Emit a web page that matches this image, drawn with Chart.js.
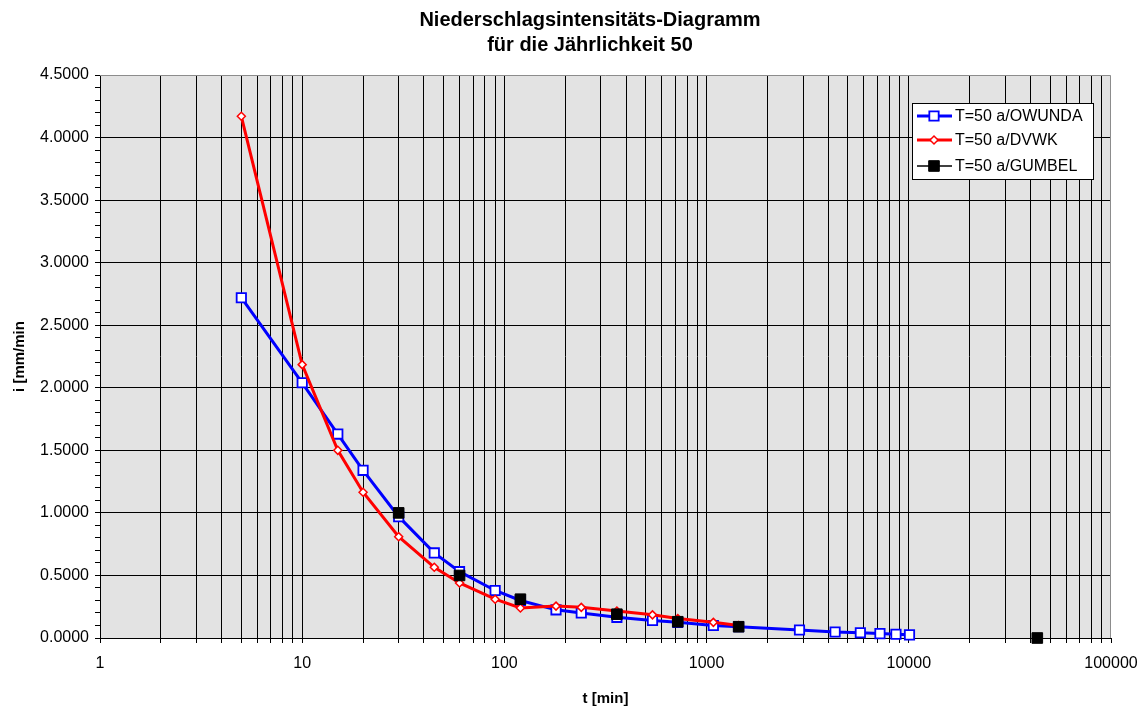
<!DOCTYPE html>
<html>
<head>
<meta charset="utf-8">
<title>Niederschlagsintensitäts-Diagramm</title>
<script src="https://cdn.jsdelivr.net/npm/chart.js@4.4.1/dist/chart.umd.min.js"></script>
<style>
  html, body { margin: 0; padding: 0; background: #fff; }
  #wrap { width: 1141px; height: 709px; }
</style>
</head>
<body>
<div id="wrap"><canvas id="chart"></canvas></div>
<script>
// Dauerstufen t [min] und Intensitäten i [mm/min]
const tOwunda = [5, 10, 15, 20, 30, 45, 60, 90, 120, 180, 240, 360, 540, 720, 1080, 1440, 2880, 4320, 5760, 7200, 8640, 10080];
const iOwunda = [2.72, 2.04, 1.63, 1.34, 0.97, 0.68, 0.53, 0.38, 0.30, 0.225, 0.20, 0.165, 0.14, 0.125, 0.10, 0.09, 0.064, 0.048, 0.042, 0.035, 0.03, 0.025];

const tDvwk = [5, 10, 15, 20, 30, 45, 60, 90, 120, 180, 240, 360, 540, 720, 1080, 1440];
const iDvwk = [4.17, 2.185, 1.50, 1.165, 0.81, 0.565, 0.44, 0.31, 0.24, 0.255, 0.245, 0.215, 0.185, 0.155, 0.125, 0.10];

const tGumbel = [30, 60, 120, 360, 720, 1440, 43200];
const iGumbel = [1.00, 0.50, 0.31, 0.19, 0.13, 0.09, 0.0];

const seriesNames = ["T=50 a/OWUNDA", "T=50 a/DVWK", "T=50 a/GUMBEL"];
const titleLines = ["Niederschlagsintensitäts-Diagramm", "für die Jährlichkeit 50"];

const FONT = "'Liberation Sans', Arial, sans-serif";

function toPoints(xs, ys) {
    return xs.map((x, i) => ({ x: x, y: ys[i] }));
}

function isHalfStep(v) {
    return Math.abs(v * 2 - Math.round(v * 2)) < 1e-6;
}

function isDecade(v) {
    let l = Math.log10(v);
    return Math.abs(l - Math.round(l)) < 1e-9;
}

// weisser Hintergrund, graue Zeichenfläche
const plotBackground = {
    id: 'plotBackground',
    beforeDraw(chart) {
        let ctx = chart.ctx, a = chart.chartArea;
        ctx.save();
        ctx.fillStyle = "#ffffff";
        ctx.fillRect(0, 0, chart.width, chart.height);
        ctx.fillStyle = "#e3e3e3";
        ctx.fillRect(a.left, a.top, a.right - a.left, a.bottom - a.top);
        ctx.restore();
    }
};

// Diagrammtitel (zweizeilig, etwas rechts der Mitte wie im Original)
const chartTitle = {
    id: 'chartTitle',
    afterDraw(chart) {
        let ctx = chart.ctx;
        ctx.save();
        ctx.fillStyle = "#000000";
        ctx.font = "bold 20px " + FONT;
        ctx.textAlign = "center";
        ctx.textBaseline = "alphabetic";
        ctx.fillText(titleLines[0], 590, 26);
        ctx.fillText(titleLines[1], 590, 51);
        ctx.restore();
    }
};

// Legende mit Rahmen innerhalb der Zeichenfläche
const boxedLegend = {
    id: 'boxedLegend',
    afterDraw(chart) {
        let ctx = chart.ctx, a = chart.chartArea;
        let x = a.right - 199, y = a.top + 28, w = 181, h = 76;
        ctx.save();
        ctx.fillStyle = "#ffffff";
        ctx.fillRect(x, y, w, h);
        ctx.strokeStyle = "#000000";
        ctx.lineWidth = 1;
        ctx.strokeRect(x + 0.5, y + 0.5, w, h);

        let rows = [y + 13, y + 37, y + 63];
        chart.data.datasets.forEach((ds, i) => {
            let ry = rows[i];
            ctx.strokeStyle = ds.legendLine;
            ctx.lineWidth = ds.legendLineWidth;
            ctx.beginPath();
            ctx.moveTo(x + 5, ry);
            ctx.lineTo(x + 40, ry);
            ctx.stroke();
            ctx.fillStyle = ds.pointBackgroundColor;
            ctx.strokeStyle = ds.pointBorderColor;
            ctx.lineWidth = ds.pointBorderWidth;
            Chart.helpers.drawPoint(ctx, {
                pointStyle: ds.pointStyle,
                radius: ds.pointRadius,
                rotation: 0,
                borderWidth: ds.pointBorderWidth
            }, x + 22, ry);
            ctx.fillStyle = "#000000";
            ctx.font = "16px " + FONT;
            ctx.textBaseline = "middle";
            ctx.textAlign = "left";
            ctx.fillText(ds.label, x + 43, ry + 1);
        });
        ctx.restore();
    }
};

// graue Umrandung oben und rechts
const plotFrame = {
    id: 'plotFrame',
    beforeDatasetsDraw(chart) {
        let ctx = chart.ctx, a = chart.chartArea;
        ctx.save();
        ctx.strokeStyle = "#8c8c8c";
        ctx.lineWidth = 1;
        ctx.beginPath();
        ctx.moveTo(a.left, a.top + 0.5);
        ctx.lineTo(a.right - 0.5, a.top + 0.5);
        ctx.lineTo(a.right - 0.5, a.bottom);
        ctx.stroke();
        ctx.restore();
    }
};

let ctx = document.getElementById("chart").getContext("2d");
window.intensityChart = new Chart(ctx, {
    type: "line",
    data: {
        datasets: [
            {
                label: seriesNames[0],
                data: toPoints(tOwunda, iOwunda),
                borderColor: "#0000ff",
                borderWidth: 3,
                pointStyle: "rect",
                pointRadius: 6.6,
                pointHoverRadius: 6.6,
                pointBackgroundColor: "#ffffff",
                pointBorderColor: "#0000ff",
                pointBorderWidth: 1.8,
                legendLine: "#0000ff",
                legendLineWidth: 3,
                order: 3,
                clip: false
            },
            {
                label: seriesNames[1],
                data: toPoints(tDvwk, iDvwk),
                borderColor: "#ff0000",
                borderWidth: 3,
                pointStyle: "rectRot",
                pointRadius: 4,
                pointHoverRadius: 4,
                pointBackgroundColor: "#ffffff",
                pointBorderColor: "#ff0000",
                pointBorderWidth: 1.5,
                legendLine: "#ff0000",
                legendLineWidth: 3,
                order: 2,
                clip: false
            },
            {
                label: seriesNames[2],
                data: toPoints(tGumbel, iGumbel),
                showLine: false,
                borderColor: "#000000",
                borderWidth: 1.5,
                pointStyle: "rect",
                pointRadius: 7.5,
                pointHoverRadius: 7.5,
                pointBackgroundColor: "#000000",
                pointBorderColor: "#000000",
                pointBorderWidth: 1,
                legendLine: "#000000",
                legendLineWidth: 1.5,
                order: 1,
                clip: false
            }
        ]
    },
    options: {
        responsive: true,
        maintainAspectRatio: false,
        animation: false,
        events: [],
        layout: { padding: { left: 0, right: 30, top: 75, bottom: 0 } },
        elements: { line: { tension: 0 } },
        plugins: {
            legend: { display: false },
            tooltip: { enabled: false },
            title: { display: false }
        },
        scales: {
            x: {
                type: "logarithmic",
                min: 1,
                max: 100000,
                afterBuildTicks(scale) {
                    let ticks = [];
                    for (let e = 0; e < 5; e++) {
                        for (let s = 1; s <= 9; s++) {
                            ticks.push({ value: s * Math.pow(10, e) });
                        }
                    }
                    ticks.push({ value: 100000 });
                    scale.ticks = ticks;
                },
                afterFit(scale) {
                    scale.height = 71;
                    scale.paddingLeft = 0;
                    scale.paddingRight = 0;
                },
                ticks: {
                    autoSkip: false,
                    maxRotation: 0,
                    minRotation: 0,
                    padding: 11,
                    color: "#000000",
                    font: { family: FONT, size: 16 },
                    callback: (v) => isDecade(v) ? String(Math.round(v)) : ""
                },
                grid: {
                    color: (c) => (c.tick && c.tick.value >= 100000) ? "rgba(0,0,0,0)" : "#000000",
                    tickColor: "#000000",
                    tickLength: 5,
                    lineWidth: 1
                },
                border: { display: true, color: "#000000", width: 1 },
                title: {
                    display: true,
                    text: "t [min]",
                    color: "#000000",
                    font: { family: FONT, size: 15, weight: "bold", lineHeight: 1.2 },
                    padding: { top: 0, bottom: 1 }
                }
            },
            y: {
                min: 0,
                max: 4.5,
                afterBuildTicks(scale) {
                    let ticks = [];
                    for (let k = 0; k <= 45; k++) {
                        ticks.push({ value: k / 10 });
                    }
                    scale.ticks = ticks;
                },
                afterFit(scale) {
                    scale.width = 100;
                    scale.paddingTop = 0;
                    scale.paddingBottom = 0;
                },
                ticks: {
                    autoSkip: false,
                    padding: 6,
                    color: "#000000",
                    font: { family: FONT, size: 16 },
                    callback: (v) => isHalfStep(v) ? v.toFixed(4) : ""
                },
                grid: {
                    color: (c) => {
                        if (!c.tick) return "rgba(0,0,0,0)";
                        let v = c.tick.value;
                        if (v >= 4.5 || !isHalfStep(v)) return "rgba(0,0,0,0)";
                        return "#000000";
                    },
                    tickColor: "#000000",
                    tickLength: 5,
                    lineWidth: 1
                },
                border: { display: true, color: "#000000", width: 1 },
                title: {
                    display: true,
                    text: "i [mm/min",
                    color: "#000000",
                    font: { family: FONT, size: 15, weight: "bold", lineHeight: 1.2 },
                    padding: { top: 11, bottom: 0 }
                }
            }
        }
    },
    plugins: [plotBackground, plotFrame, chartTitle, boxedLegend]
});
</script>
</body>
</html>
